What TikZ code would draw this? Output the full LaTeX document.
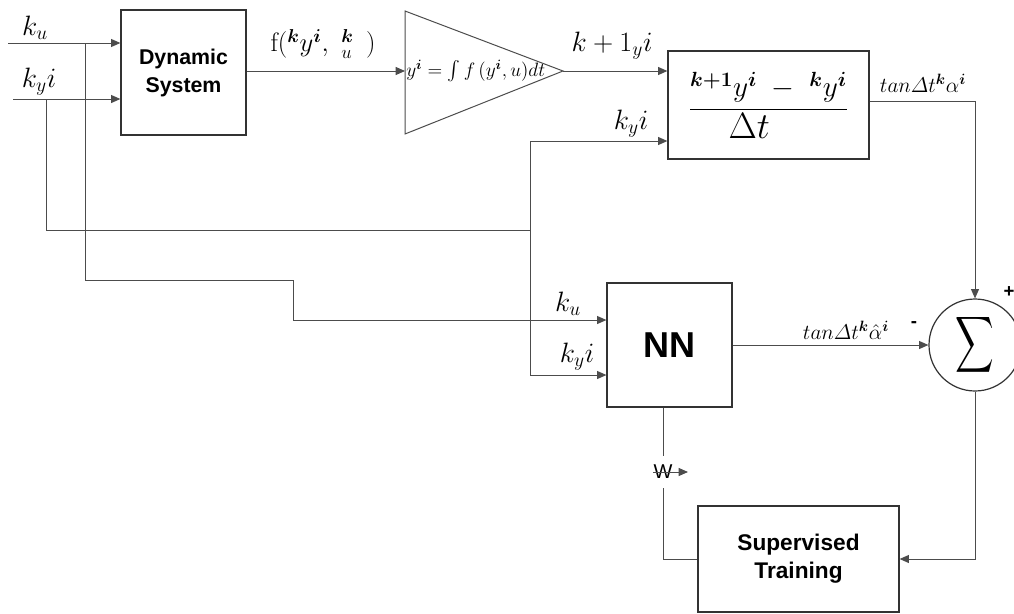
\RequirePackage{fix-cm}
\documentclass[tikz,border=0pt]{standalone}
\usepackage{amsmath,bm}
\usepackage{fontspec}
\setsansfont{Liberation Sans}
\usetikzlibrary{arrows.meta,calc}
\begin{document}
\begin{tikzpicture}[x=0.75pt,y=-0.75pt,
  ln/.style={draw=black!70,line width=0.75pt},
  arr/.style={ln,-{Triangle[length=7pt,width=6pt]}},
  box/.style={draw=black!80,line width=0.9pt},
  lab/.style={inner sep=0pt,font=\fontsize{21}{21}\selectfont},
  slab/.style={inner sep=0pt,font=\fontsize{16}{16}\selectfont},
  sgn/.style={inner sep=0pt,font=\sffamily\bfseries\fontsize{14}{14}\selectfont}]
\useasboundingbox (0,0) rectangle (1014,614);

% blocks
\node[box,minimum width=93.75pt,minimum height=93.75pt,align=center,
  font=\sffamily\bfseries\fontsize{16}{21}\selectfont] (dyn) at (183.5,72.5) {Dynamic\\System};
\coordinate (tin) at (405,71);
\coordinate (tout) at (563,71);
\draw[box,line width=0.75pt,draw=black!70] (405,11) -- (tout) -- (405,134) -- cycle;
\node[anchor=west,inner sep=0pt,font=\fontsize{14.5}{14.5}\selectfont] (tri) at (406,71)
  {$y^{\boldsymbol{i}}=\int f\,(y^{\boldsymbol{i}},u)dt$};
\node[box,minimum width=150.75pt,minimum height=81pt] (frac) at (768.5,105)
  {\fontsize{22}{26}\selectfont $\displaystyle\frac{{}^{\boldsymbol{k+1}}y^{\boldsymbol{i}}\;-\;{}^{\boldsymbol{k}}y^{\boldsymbol{i}}}{\scalebox{1.25}{$\Delta t$}}$};
\node[box,minimum width=93.75pt,minimum height=93pt,
  font=\sffamily\bfseries\fontsize{27}{30}\selectfont] (nn) at (669.5,345) {NN};
\node[draw=black!80,line width=0.9pt,circle,minimum size=69pt,inner sep=0pt] (sum) at (975,345) {};
\node[inner sep=0pt] (sig) at (sum.center) {\resizebox*{29pt}{47pt}{$\displaystyle\sum$}};
\node[box,minimum width=150.75pt,minimum height=79.5pt,align=center,
  font=\sffamily\bfseries\fontsize{17}{21}\selectfont] (st) at (798.5,559) {Supervised\\Training};

% inputs
\coordinate (kuS) at (8,43);
\coordinate (kyS) at (13,99);
\draw[arr] (kuS) -- (kuS -| dyn.west);
\draw[arr] (kyS) -- (kyS -| dyn.west);
\node[lab] (lku) at (35,28) {$k_u$};
\node[lab] (lky) at (39,82) {$k_y i$};

% branches
\coordinate (ja) at (46,99);
\coordinate (jb) at (530,230);
\coordinate (jc) at (85,43);
\coordinate (jd) at (293,280);
\draw[ln] (ja) |- (jb);
\draw[arr] (jb) |- ($(frac.west)+(0,36)$);
\draw[arr] (jb) |- ($(nn.west)+(0,30)$);
\draw[ln] (jc) |- (jd);
\draw[arr] (jd) |- ($(nn.west)+(0,-25)$);
\node[lab] (lfky) at (631,124) {$k_y i$};
\node[lab] (lnku) at (568,304) {$k_u$};
\node[lab] (lnky) at (577,357) {$k_y i$};

% main path
\draw[arr] (dyn.east |- tin) -- (tin);
\node[inner sep=0pt,font=\fontsize{20}{20}\selectfont] (lf) at (323,44)
  {$\mathrm{f}({}^{\boldsymbol{k}}y^{\boldsymbol{i}},\ {}^{\boldsymbol{k}}_{u}\ \,)$};
\draw[arr] (tout) -- (tout -| frac.west);
\node[lab] (lk1) at (612,46) {$k+1_y i$};
\draw[arr] ($(frac.east)+(0,-4)$) -| (sum.north);
\node[slab] (lta) at (923,83) {$tan\varDelta t^{\boldsymbol{k}}\alpha^{\boldsymbol{i}}$};
\draw[arr] (nn.east) -- (sum.west);
\node[slab] (lth) at (846,330) {$tan\varDelta t^{\boldsymbol{k}}\hat{\alpha}^{\boldsymbol{i}}$};
\node[sgn] (minus) at (914,325) {-};
\node[sgn] (plus) at (1009,292) {+};

% training loop
\draw[arr] (sum.south) |- (st.east);
\node[inner sep=0pt,minimum height=24pt,font=\sffamily\fontsize{15}{15}\selectfont] (w) at (663,472) {W};
\coordinate (wtip) at (688,472);
\draw[ln] (w.north |- nn.south) -- (w.north);
\draw[arr] (w.west) -- (wtip);
\draw[ln] (w.south) |- (st.west);
\end{tikzpicture}
\end{document}
